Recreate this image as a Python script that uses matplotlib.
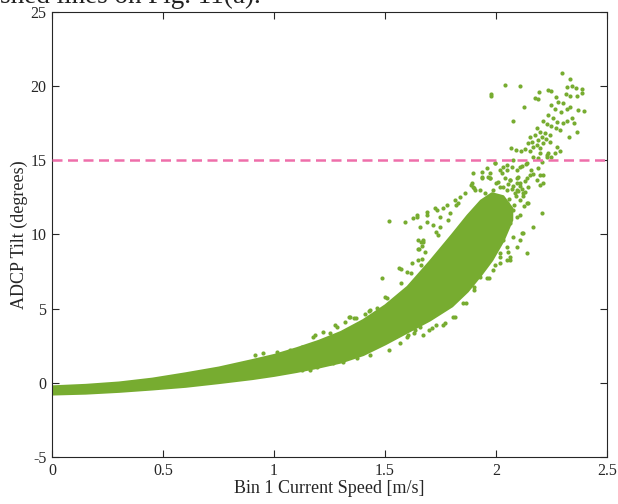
import numpy as np
import matplotlib
matplotlib.use("Agg")
import matplotlib.pyplot as plt

plt.rcParams['font.family'] = ['Liberation Serif', 'DejaVu Serif']

GREEN = '#77ac30'
PINK = '#ee6faa'
AXCOL = '#262626'

# dense core of the tilt/speed cloud: lower and upper edge per speed
band_x = [0.0, 0.15, 0.3, 0.45, 0.6, 0.75, 0.9, 1.0, 1.1, 1.2, 1.3, 1.4,
          1.5, 1.6, 1.7, 1.8, 1.87, 1.93, 1.98, 2.03, 2.07]
band_lo = [-0.74, -0.68, -0.56, -0.4, -0.22, 0.03, 0.3, 0.52, 0.78, 1.08,
           1.42, 1.92, 2.65, 3.45, 4.25, 5.2, 6.2, 7.3, 8.3, 9.6, 11.0]
band_hi = [-0.22, -0.12, 0.04, 0.3, 0.66, 1.05, 1.55, 1.9, 2.35, 2.85,
           3.45, 4.25, 5.25, 6.5, 8.2, 10.0, 11.3, 12.3, 12.8, 12.6, 11.8]

# scattered samples along the edges of the core
edge_speed = [
    0.914, 0.952, 1.012, 1.072, 1.125, 1.185, 1.222, 1.252, 1.282, 1.320,
    1.342, 1.369, 1.410, 1.432, 1.462, 1.177, 1.275, 1.34, 1.36, 1.43,
    1.50, 1.51, 1.485, 1.519, 1.565, 1.57, 1.57, 1.59, 1.60, 1.617, 1.62,
    1.628, 1.643, 1.646, 1.65, 1.655, 1.66, 1.66, 1.665, 1.658, 1.67,
    1.688, 1.688, 1.69, 1.718, 1.733, 1.725, 1.73, 1.74, 1.75, 1.748,
    1.763, 1.778, 1.785, 1.793, 1.815, 1.830, 1.82, 1.84, 1.86, 1.650,
    1.673, 1.650, 1.680, 1.665,
    0.862, 0.952, 1.042, 1.125, 1.192, 1.252, 1.312, 1.372, 1.432,
    1.162, 1.267, 1.342, 1.418, 1.52, 1.568, 1.602, 1.6, 1.63, 1.635,
    1.658, 1.67, 1.698, 1.71, 1.728, 1.762, 1.77, 1.808, 1.815, 1.853,
    1.863, 1.9, 1.9, 1.928, 1.96, 1.97, 1.995, 2.018, 2.048, 2.055,
    2.093, 2.116, 2.209,
]
edge_tilt = [
    1.88, 1.99, 2.10, 2.21, 2.44, 3.22, 3.45, 3.34, 3.78, 4.12,
    4.46, 4.35, 4.64, 4.91, 5.02, 3.11, 3.9, 4.46, 4.35, 4.84,
    5.8, 5.7, 7.07, 10.93, 7.72, 7.7, 6.7, 10.82, 7.5, 7.43, 8.1,
    11.09, 11.31, 11.2, 8.3, 9.0, 7.94, 9.5, 9.2, 10.53, 9.6,
    11.54, 10.86, 11.3, 10.64, 11.65, 11.77, 10.2, 9.97, 10.5, 11.2,
    11.76, 11.99, 10.97, 11.42, 12.33, 12.1, 12.0, 12.5, 12.78, 9.61,
    9.50, 9.05, 8.83, 8.38,
    0.3, 0.53, 0.75, 0.86, 1.09, 1.31, 1.42, 1.65, 1.87,
    0.86, 1.31, 1.76, 2.43, 2.21, 2.66, 3.22, 3.1, 3.35, 3.56,
    3.78, 3.2, 3.56, 3.7, 3.9, 3.9, 4.01, 4.46, 4.46, 5.36,
    5.36, 6.26, 6.48, 7.15, 7.07, 7.05, 7.94, 8.5, 8.28, 8.84,
    9.18, 10.08, 11.43,
]

# looser cloud between 1.9 and 2.2 m/s
mid_speed = [
    1.995, 2.018, 2.048, 2.078, 2.108, 2.138, 2.168, 2.198, 2.228, 2.153,
    2.183, 2.198, 2.213, 2.146, 2.123, 2.138, 2.108, 2.093, 2.063, 2.033,
    1.988, 1.965, 1.973, 1.890, 1.898, 2.018, 2.048, 2.078, 2.093, 2.063,
    2.033, 2.003, 2.123, 2.108, 2.078, 2.048, 2.018, 2.063, 2.018, 1.988,
    2.033, 1.973, 1.943, 1.950, 1.928, 1.898, 1.935, 1.958, 2.168, 2.138,
    2.063, 2.126, 2.146, 2.108, 1.886, 1.905, 1.936, 1.973, 2.011, 2.131,
    2.08, 2.09, 2.1, 2.06, 2.05, 2.02, 2.0, 2.07, 2.12, 2.11,
    2.10, 2.115, 2.085, 2.095, 2.13, 2.075, 2.04, 2.055,
]
mid_tilt = [
    14.8, 14.35, 14.68, 15.0, 14.57, 14.8, 15.25, 15.47, 15.36, 14.01,
    13.67, 14.01, 13.45, 13.22, 12.78, 12.1, 12.33, 13.45, 13.67, 13.22,
    13.0, 13.9, 14.12, 13.45, 13.22, 12.55, 12.1, 11.65, 11.2, 10.75,
    11.2, 11.65, 10.08, 9.63, 9.85, 9.18, 8.73, 8.5, 8.05, 7.6,
    9.63, 12.33, 12.1, 12.78, 13.0, 14.12, 14.23, 14.46, 10.53, 8.73,
    8.27, 11.92, 12.1, 11.3, 13.34, 13.0, 13.79, 13.78, 13.56, 12.89,
    12.0, 12.6, 12.9, 12.4, 13.0, 13.2, 13.5, 13.1, 12.6, 13.3,
    13.9, 13.1, 12.8, 13.0, 13.6, 13.3, 13.8, 13.4,
]

# high speed cluster around and above the tilt limit
top_speed = [
    2.297, 2.333, 2.042, 2.108, 1.977, 1.977, 2.318, 2.341, 2.360, 2.386,
    2.386, 2.363, 2.333, 2.315, 2.236, 2.250, 2.195, 2.177, 2.188, 2.270,
    2.281, 2.303, 2.125, 2.397, 2.371, 2.333, 2.250, 2.265, 2.291, 2.318,
    2.077, 2.236, 2.259, 2.277, 2.301, 2.322, 2.341, 2.351, 2.213, 2.231,
    2.250, 2.270, 2.288, 2.363, 2.330, 2.183, 2.198, 2.221, 2.243, 2.206,
    2.225, 2.191, 2.243, 2.176, 2.153, 2.213, 2.183, 2.161, 2.146, 2.168,
    2.198, 2.273, 2.288, 2.265, 2.236, 2.228, 2.250, 2.153, 2.068, 2.090,
    2.111, 2.131, 2.191, 2.206, 1.995, 2.033, 2.051, 2.025, 2.070, 2.093,
    2.116, 2.135, 2.156, 2.165, 2.191, 2.210, 2.198, 2.141, 2.093, 2.108,
    2.063, 1.936, 1.901, 1.973,
]
top_tilt = [
    20.91, 20.47, 20.06, 19.99, 19.50, 19.32, 19.97, 20.01, 19.86, 19.79,
    19.52, 19.34, 19.34, 19.45, 19.74, 19.70, 19.59, 19.23, 19.14, 19.25,
    18.96, 18.84, 18.58, 18.35, 18.39, 18.62, 18.73, 18.44, 18.28, 18.44,
    17.65, 18.06, 17.83, 17.61, 17.49, 17.67, 17.83, 17.54, 17.68, 17.45,
    17.32, 17.16, 17.05, 16.94, 16.55, 17.16, 16.94, 16.83, 16.71, 16.60,
    16.42, 16.38, 16.26, 16.71, 16.60, 16.15, 16.04, 16.26, 16.15, 15.88,
    15.81, 15.88, 15.65, 15.47, 15.47, 15.20, 15.25, 15.65, 15.81, 15.70,
    15.65, 15.74, 15.13, 14.91, 14.80, 14.58, 14.35, 14.12, 14.53, 14.35,
    14.62, 14.75, 14.35, 14.08, 14.47, 14.01, 13.34, 13.78, 13.78, 13.45,
    13.67, 13.90, 13.11, 13.78,
]

tilt_limit = 15

x_ticks = [0, 0.5, 1, 1.5, 2, 2.5]
x_labels = ['0', '0.5', '1', '1.5', '2', '2.5']
y_ticks = [-5, 0, 5, 10, 15, 20, 25]

fig = plt.figure(figsize=(6.18, 5.04), dpi=100)
ax = fig.add_axes([0.0841, 0.0933, 0.8981, 0.8829])

ax.fill_between(band_x, band_lo, band_hi, color=GREEN, lw=1.8, ec=GREEN, zorder=2)
for xs, ys in [(edge_speed, edge_tilt), (mid_speed, mid_tilt), (top_speed, top_tilt)]:
    ax.scatter(xs, ys, s=9, color=GREEN, lw=0, zorder=3)
ax.axhline(tilt_limit, color=PINK, lw=1.8, ls=(0, (4, 2.2)), zorder=4)

ax.set_xlim(0, 2.5)
ax.set_ylim(-5, 25)
ax.set_xticks(x_ticks)
ax.set_xticklabels(x_labels)
ax.set_yticks(y_ticks)
ax.set_yticklabels([str(v) for v in y_ticks])
ax.tick_params(direction='in', length=5, width=0.8, colors=AXCOL,
               labelsize=11.5, top=True, right=True, pad=4)
for s in ax.spines.values():
    s.set_color(AXCOL)
    s.set_linewidth(0.8)

ax.set_xlabel('Bin 1 Current Speed [m/s]', fontsize=13, color=AXCOL, labelpad=1)
ax.set_ylabel('ADCP Tilt (degrees)', fontsize=13, color=AXCOL, labelpad=2)

# tail of the caption line above the figure
fig.text(0.0, 0.995, 'shed lines on Fig. 11(a).', fontsize=19.5, color='#222222',
         va='baseline', ha='left')

fig.savefig('out.png', dpi=100)
